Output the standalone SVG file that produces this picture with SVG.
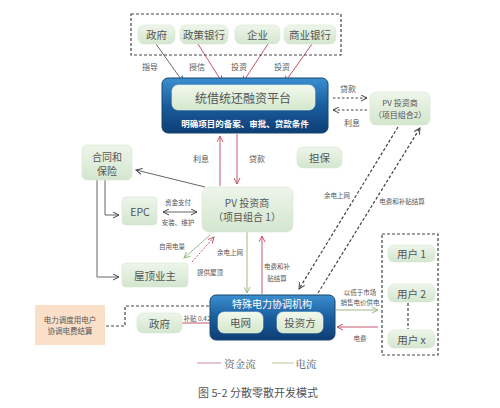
<svg xmlns="http://www.w3.org/2000/svg" width="500" height="408" viewBox="0 0 500 408">
<defs>
<linearGradient id="gNode" x1="0" y1="0" x2="0" y2="1">
<stop offset="0" stop-color="#eef5ea"/><stop offset="1" stop-color="#d3e6cf"/>
</linearGradient>
<linearGradient id="gBlue" x1="0" y1="0" x2="0" y2="1">
<stop offset="0" stop-color="#3b8fd0"/><stop offset="0.5" stop-color="#1a5d9e"/><stop offset="1" stop-color="#0e3e74"/>
</linearGradient>
<linearGradient id="gInner" x1="0" y1="0" x2="0" y2="1">
<stop offset="0" stop-color="#f2f8ec"/><stop offset="1" stop-color="#d4e8cc"/>
</linearGradient>
<marker id="aR" markerWidth="7" markerHeight="7" refX="6" refY="3.5" orient="auto" markerUnits="userSpaceOnUse"><path d="M0,0.5 L6,3.5 L0,6.5" fill="none" stroke="#c4566a" stroke-width="1"/></marker>
<marker id="aG" markerWidth="7" markerHeight="7" refX="6" refY="3.5" orient="auto" markerUnits="userSpaceOnUse"><path d="M0,0.5 L6,3.5 L0,6.5" fill="none" stroke="#9dbb84" stroke-width="1"/></marker>
<marker id="aK" markerWidth="7" markerHeight="7" refX="6" refY="3.5" orient="auto" markerUnits="userSpaceOnUse"><path d="M0,0.5 L6,3.5 L0,6.5" fill="none" stroke="#444" stroke-width="1"/></marker>
<marker id="aKs" markerWidth="7" markerHeight="7" refX="1" refY="3.5" orient="auto" markerUnits="userSpaceOnUse"><path d="M7,0.5 L1,3.5 L7,6.5" fill="none" stroke="#444" stroke-width="1"/></marker>
<marker id="aB" markerWidth="7" markerHeight="7" refX="6" refY="3.5" orient="auto" markerUnits="userSpaceOnUse"><path d="M0,0.5 L6,3.5 L0,6.5" fill="none" stroke="#1f5d9a" stroke-width="1.2"/></marker>
</defs>
<style>
text{font-family:"Noto Sans CJK SC","Liberation Sans",sans-serif;fill:#555;text-anchor:middle;dominant-baseline:central}
.n{fill:url(#gNode);stroke:#d8e6d4;stroke-width:0.6}
.t{font-size:10.5px}
.t2{font-size:10px}
.s{font-size:8px;fill:#555}
.xs{font-size:6.5px;fill:#555}
.w{fill:#fff;font-weight:bold}
.blue{fill:url(#gBlue);stroke:#16466f;stroke-width:1}
.inner{fill:url(#gInner);stroke:#e8f2e2;stroke-width:0.6}
.red{stroke:#c4566a;stroke-width:1;fill:none}
.grn{stroke:#9dbb84;stroke-width:1;fill:none}
.gry{stroke:#555;stroke-width:0.9;fill:none}
.dash{stroke:#444;stroke-width:1.2;fill:none;stroke-dasharray:3,2}
.dsh{stroke:#444;stroke-width:1;fill:none;stroke-dasharray:2.5,2}
</style>
<rect width="500" height="408" fill="#fff"/>

<g id="connectors">
<line x1="156" y1="44" x2="183" y2="82" stroke="#444" stroke-width="0.8" marker-end="url(#aB)"/>
<line x1="198" y1="44" x2="222" y2="82" class="red" marker-end="url(#aR)"/>
<line x1="268" y1="44" x2="243" y2="82" class="red" marker-end="url(#aR)"/>
<line x1="312" y1="44" x2="285" y2="82" class="red" marker-end="url(#aR)"/>
<line x1="333" y1="98" x2="367" y2="98" class="dsh" marker-end="url(#aK)"/>
<line x1="367" y1="110" x2="333" y2="110" class="dsh" marker-end="url(#aK)"/>
<line x1="220" y1="186" x2="220" y2="136" class="red" stroke="#c78b96" marker-end="url(#aR)"/>
<line x1="237" y1="134" x2="237" y2="184" class="red" marker-end="url(#aR)"/>
<line x1="205" y1="187" x2="136" y2="170" class="gry" marker-end="url(#aK)"/>
<polyline points="105,180 105,215 119,215" class="gry" marker-end="url(#aK)"/>
<polyline points="97,180 97,277 119,277" class="gry" marker-end="url(#aK)"/>
<line x1="163" y1="212" x2="197" y2="212" class="gry" marker-start="url(#aKs)" marker-end="url(#aK)"/>
<line x1="210" y1="235" x2="184" y2="258" class="grn" marker-end="url(#aG)"/>
<line x1="192" y1="262" x2="214" y2="237" class="red" stroke-dasharray="2,1.5" marker-end="url(#aR)"/>
<line x1="247" y1="232" x2="247" y2="293" class="grn" marker-end="url(#aG)"/>
<line x1="262" y1="294" x2="262" y2="236" class="red" marker-end="url(#aR)"/>
<line x1="398" y1="127" x2="299" y2="289" class="dash" marker-end="url(#aK)"/>
<line x1="318" y1="293" x2="420" y2="128" class="dash" marker-end="url(#aK)"/>
<line x1="336" y1="310" x2="378" y2="310" class="grn" marker-end="url(#aG)"/>
<line x1="378" y1="327" x2="337" y2="327" class="red" marker-end="url(#aR)"/>
<line x1="182" y1="323" x2="217" y2="323" class="red" marker-end="url(#aR)"/>
<polyline points="106,326 125,326 125,306 210,306" class="dash"/>
<line x1="408" y1="303" x2="408" y2="329" class="dash"/>
</g>

<g id="top-group">
<rect x="131" y="14" width="210" height="41" fill="none" stroke="#444" stroke-width="1.2" stroke-dasharray="3,2"/>
</g>
<g id="zhengfu-top"><rect x="138" y="25" width="37" height="19" rx="6" class="n"/><text x="156.5" y="34.5" class="t">政府</text></g>
<g id="policy-bank"><rect x="180" y="25" width="48" height="19" rx="6" class="n"/><text x="204" y="34.5" class="t">政策银行</text></g>
<g id="enterprise"><rect x="235" y="25" width="45" height="19" rx="6" class="n"/><text x="257.5" y="34.5" class="t">企业</text></g>
<g id="commercial-bank"><rect x="284" y="25" width="52" height="19" rx="6" class="n"/><text x="310" y="34.5" class="t">商业银行</text></g>

<g id="labels">
<text x="150" y="66" class="s">指导</text>
<text x="197" y="66" class="s">授信</text>
<text x="239" y="66" class="s">投资</text>
<text x="282" y="66" class="s">投资</text>
<text x="348" y="88" class="s">贷款</text>
<text x="352" y="122" class="s">利息</text>
<text x="201" y="158" class="s">利息</text>
<text x="257" y="158" class="s">贷款</text>
<text x="178" y="202" class="xs">资金支付</text>
<text x="178" y="222" class="xs">安装、维护</text>
<text x="172" y="246" class="xs">自用电量</text>
<text x="210" y="272" class="xs">提供屋顶</text>
<text x="230" y="252" class="xs">余电上网</text>
<text x="277" y="266" class="xs">电费和补</text>
<text x="277" y="278" class="xs">贴结算</text>
<text x="337" y="195" class="xs">余电上网</text>
<text x="402" y="201" class="xs">电费和补贴结算</text>
<text x="360" y="292" class="xs">以低于市场</text>
<text x="360" y="302" class="xs">销售电价供电</text>
<text x="360" y="338" class="xs">电费</text>
<text x="197" y="318" class="xs">补贴 0.42</text>
</g>

<g id="platform">
<rect x="162" y="78" width="166" height="55" rx="6" class="blue"/>
<rect x="172" y="85" width="143" height="25" rx="6" class="inner"/>
<text x="243" y="97.5" style="font-size:12px">统借统还融资平台</text>
<text x="245" y="123" class="w" style="font-size:8.5px">明确项目的备案、审批、贷款条件</text>
</g>
<g id="pv2"><rect x="370" y="92" width="60" height="33" rx="6" class="n"/><text x="400" y="102" class="s">PV 投资商</text><text x="400" y="114" class="s">（项目组合2）</text></g>
<g id="danbao"><rect x="297" y="147" width="45" height="21" rx="6" class="n"/><text x="319.5" y="157.5" class="t">担保</text></g>
<g id="hetong"><rect x="82" y="145" width="50" height="35" rx="5" class="n"/><text x="107" y="156" class="t2">合同和</text><text x="107" y="170" class="t2">保险</text></g>
<g id="pv1"><rect x="202" y="187" width="91" height="45" rx="7" class="n"/><text x="247" y="202" class="t2">PV 投资商</text><text x="247" y="216" class="t2">（项目组合 1）</text></g>
<g id="epc"><rect x="122" y="197" width="35" height="28" rx="4" class="n"/><text x="140" y="211" class="t">EPC</text></g>
<g id="roof"><rect x="122" y="263" width="66" height="24" rx="4" class="n"/><text x="155" y="275" class="t">屋顶业主</text></g>

<g id="special">
<rect x="210" y="295" width="125" height="45" rx="6" class="blue"/>
<text x="272" y="303.5" class="w" style="font-size:10px;font-weight:normal">特殊电力协调机构</text>
<rect x="218" y="312" width="45" height="21" rx="6" class="inner"/><text x="240.5" y="322.5" class="t">电网</text>
<rect x="277" y="312" width="46" height="21" rx="6" class="inner"/><text x="300" y="322.5" class="t">投资方</text>
</g>
<g id="zhengfu-bottom"><rect x="137" y="313" width="45" height="20" rx="6" class="n"/><text x="159.5" y="323" class="t">政府</text></g>
<g id="dispatch"><rect x="35" y="305" width="70" height="40" fill="#fbe0c9"/><text x="70" y="319.5" class="xs" style="font-size:7.5px">电力调度用电户</text><text x="70" y="330.5" class="xs" style="font-size:7.5px">协调电费结算</text></g>

<g id="users">
<rect x="382" y="234" width="56" height="121" fill="none" stroke="#444" stroke-width="1.2" stroke-dasharray="3,2"/>
<rect x="388" y="245" width="47" height="17" rx="6" class="n"/><text x="411.5" y="253.5" class="t">用户 1</text>
<rect x="388" y="284" width="47" height="18" rx="6" class="n"/><text x="411.5" y="293" class="t">用户 2</text>
<rect x="388" y="330" width="47" height="18" rx="6" class="n"/><text x="411.5" y="339" class="t">用户 x</text>
</g>

<g id="legend">
<line x1="197" y1="363" x2="221" y2="363" stroke="#c78b96" stroke-width="1"/>
<text x="240" y="363" class="t" style="font-family:'Noto Serif CJK SC','Noto Sans CJK SC',serif">资金流</text>
<line x1="272" y1="363" x2="294" y2="363" stroke="#b5cc9e" stroke-width="1"/>
<text x="306" y="363" class="t" style="font-family:'Noto Serif CJK SC','Noto Sans CJK SC',serif">电流</text>
<text x="258" y="392" style="font-size:11px">图 5-2 分散零散开发模式</text>
</g>
</svg>
